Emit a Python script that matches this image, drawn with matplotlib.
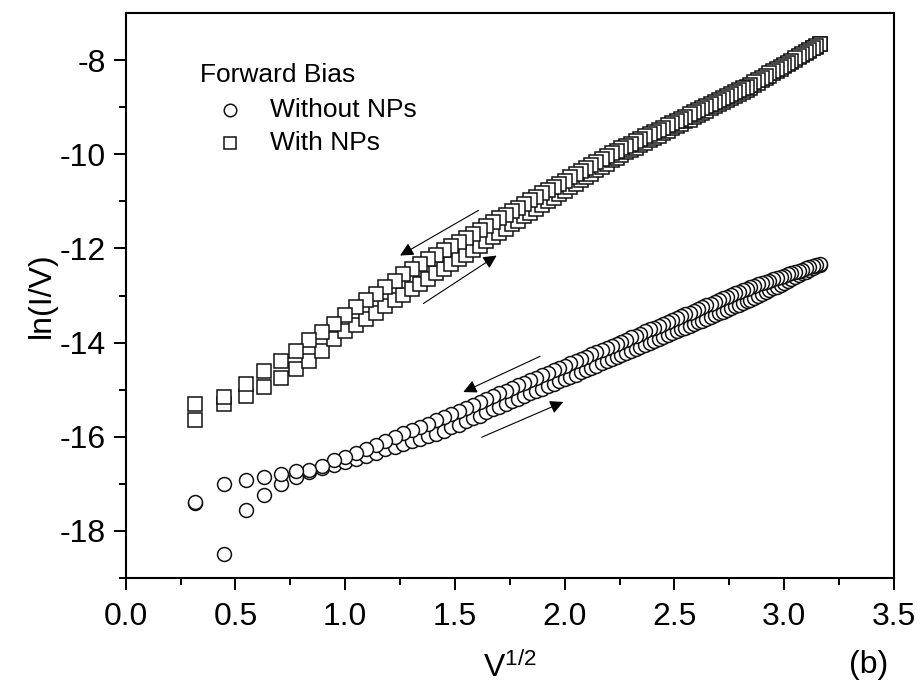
import numpy as np
import matplotlib
matplotlib.use("Agg")
import matplotlib.pyplot as plt

parameters = {'font.family': ['Liberation Sans', 'DejaVu Sans'],
              'mathtext.default': 'regular',
              'axes.unicode_minus': False,
              'axes.labelsize': 23,
              'xtick.labelsize': 23,
              'ytick.labelsize': 23,
              'axes.linewidth': 1.5}
plt.rcParams.update(parameters)

# bias sweep 0.1 V ... 10 V in 0.1 V steps
bias = [round(0.1 * k, 1) for k in range(1, 101)]

# ln(I/V), without NPs, forward sweep (up)
wo_fwd = [-17.40, -18.50, -17.55, -17.23, -17.01, -16.86, -16.75, -16.66, -16.59, -16.54,
          -16.47, -16.40, -16.34, -16.27, -16.21, -16.16, -16.10, -16.04, -15.99, -15.94,
          -15.87, -15.80, -15.74, -15.67, -15.61, -15.55, -15.48, -15.42, -15.36, -15.31,
          -15.25, -15.19, -15.14, -15.08, -15.03, -14.98, -14.93, -14.88, -14.82, -14.77,
          -14.72, -14.68, -14.63, -14.58, -14.53, -14.49, -14.44, -14.39, -14.35, -14.30,
          -14.26, -14.22, -14.17, -14.13, -14.09, -14.05, -14.00, -13.96, -13.92, -13.88,
          -13.84, -13.80, -13.76, -13.72, -13.68, -13.64, -13.60, -13.56, -13.53, -13.49,
          -13.45, -13.41, -13.37, -13.34, -13.30, -13.26, -13.23, -13.19, -13.15, -13.12,
          -13.09, -13.05, -13.01, -12.97, -12.93, -12.88, -12.84, -12.81, -12.77, -12.73,
          -12.69, -12.65, -12.61, -12.57, -12.53, -12.49, -12.46, -12.42, -12.38, -12.35]

# without NPs, reverse sweep (down)
wo_rev = [-17.39, -17.01, -16.91, -16.86, -16.80, -16.73, -16.70, -16.63, -16.50, -16.43,
          -16.34, -16.25, -16.17, -16.09, -16.01, -15.93, -15.86, -15.79, -15.72, -15.65,
          -15.58, -15.51, -15.45, -15.38, -15.32, -15.26, -15.20, -15.14, -15.08, -15.02,
          -14.96, -14.91, -14.85, -14.80, -14.75, -14.69, -14.64, -14.59, -14.54, -14.49,
          -14.44, -14.39, -14.34, -14.30, -14.25, -14.20, -14.16, -14.11, -14.07, -14.02,
          -13.98, -13.94, -13.89, -13.85, -13.81, -13.76, -13.72, -13.68, -13.64, -13.60,
          -13.56, -13.52, -13.48, -13.44, -13.40, -13.36, -13.32, -13.28, -13.25, -13.21,
          -13.17, -13.14, -13.10, -13.06, -13.03, -12.99, -12.95, -12.92, -12.88, -12.85,
          -12.82, -12.79, -12.76, -12.74, -12.71, -12.68, -12.65, -12.63, -12.60, -12.58,
          -12.55, -12.52, -12.50, -12.47, -12.45, -12.42, -12.40, -12.37, -12.35, -12.32]

# with NPs, forward sweep
np_fwd = [-15.65, -15.30, -15.14, -14.95, -14.75, -14.56, -14.38, -14.17, -13.92, -13.76,
          -13.62, -13.49, -13.36, -13.23, -13.10, -12.98, -12.86, -12.75, -12.64, -12.53,
          -12.43, -12.33, -12.22, -12.13, -12.03, -11.94, -11.85, -11.76, -11.67, -11.58,
          -11.49, -11.41, -11.32, -11.24, -11.16, -11.08, -11.00, -10.93, -10.85, -10.78,
          -10.70, -10.63, -10.55, -10.48, -10.41, -10.34, -10.27, -10.20, -10.13, -10.07,
          -10.02, -9.96, -9.91, -9.86, -9.80, -9.75, -9.70, -9.65, -9.60, -9.55,
          -9.50, -9.45, -9.40, -9.35, -9.30, -9.26, -9.21, -9.16, -9.12, -9.07,
          -9.02, -8.98, -8.93, -8.89, -8.84, -8.80, -8.75, -8.71, -8.67, -8.63,
          -8.58, -8.53, -8.48, -8.43, -8.38, -8.33, -8.28, -8.23, -8.18, -8.13,
          -8.08, -8.04, -7.99, -7.94, -7.89, -7.85, -7.80, -7.75, -7.71, -7.66]

# with NPs, reverse sweep
np_rev = [-15.30, -15.16, -14.87, -14.61, -14.38, -14.17, -13.95, -13.78, -13.60, -13.42,
          -13.25, -13.10, -12.96, -12.82, -12.68, -12.54, -12.43, -12.33, -12.23, -12.14,
          -12.04, -11.95, -11.86, -11.77, -11.69, -11.60, -11.52, -11.44, -11.36, -11.28,
          -11.20, -11.13, -11.05, -10.98, -10.90, -10.83, -10.76, -10.69, -10.62, -10.56,
          -10.49, -10.42, -10.36, -10.29, -10.23, -10.16, -10.10, -10.04, -9.98, -9.92,
          -9.87, -9.82, -9.77, -9.72, -9.67, -9.62, -9.57, -9.52, -9.48, -9.43,
          -9.38, -9.34, -9.29, -9.24, -9.20, -9.15, -9.11, -9.06, -9.02, -8.98,
          -8.93, -8.89, -8.85, -8.81, -8.76, -8.72, -8.68, -8.64, -8.60, -8.56,
          -8.52, -8.47, -8.42, -8.38, -8.33, -8.28, -8.23, -8.19, -8.14, -8.10,
          -8.05, -8.01, -7.96, -7.92, -7.87, -7.83, -7.79, -7.74, -7.70, -7.65]

# sweep direction arrows: (tail x, tail y, head x, head y)
arrows = [(1.607, -11.19, 1.250, -12.15),
          (1.356, -13.17, 1.690, -12.15),
          (1.888, -14.29, 1.538, -15.05),
          (1.622, -16.01, 1.994, -15.26)]

x = np.sqrt(bias)

fig = plt.figure(figsize=(9.24, 6.93), dpi=100)
ax = fig.add_axes([0.136, 0.166, 0.8315, 0.815])

mk = dict(ls='none', mfc='white', mec='#111111', mew=1.1, ms=10)
# forward sweep goes up, reverse comes back down
ax.plot(x, wo_fwd, marker='o', **mk)
ax.plot(x[::-1], wo_rev[::-1], marker='o', **mk)
ax.plot(x, np_fwd, marker='s', **mk)
ax.plot(x[::-1], np_rev[::-1], marker='s', **mk)

for x0, y0, x1, y1 in arrows:
  ax.annotate('', xy=(x1, y1), xytext=(x0, y0),
              arrowprops=dict(arrowstyle='-|>', color='black', lw=0.8,
                              mutation_scale=20, shrinkA=0, shrinkB=0))

# key, placed by hand in axes fractions
ax.text(0.097, 0.890, 'Forward Bias', fontsize=19, va='center', transform=ax.transAxes)
for yy, m, lab in [(0.828, 'o', 'Without NPs'), (0.770, 's', 'With NPs')]:
  ax.plot([0.136], [yy], marker=m, transform=ax.transAxes, clip_on=False,
          ls='none', mfc='white', mec='#111111', mew=1.1, ms=9)
  ax.text(0.188, yy, lab, fontsize=19, va='center', transform=ax.transAxes)

ax.set_xlim(0, 3.5)
ax.set_ylim(-19, -7)
ax.set_xticks(np.arange(0, 3.51, 0.5))
ax.set_xticks(np.arange(0.25, 3.5, 0.5), minor=True)
ax.set_yticks(np.arange(-18, -7, 2))
ax.set_yticks(np.arange(-19, -7, 2), minor=True)
ax.tick_params(which='major', direction='out', length=8.5, width=1.4)
ax.tick_params(axis='x', which='major', pad=9)
ax.tick_params(axis='y', which='major', pad=6)
ax.tick_params(which='minor', direction='out', length=5, width=1.4)
ax.tick_params(top=False, right=False)
ax.xaxis.set_major_formatter(matplotlib.ticker.FormatStrFormatter('%.1f'))

ax.set_xlabel('V$^{1/2}$', labelpad=14)
ax.set_ylabel('ln(I/V)', labelpad=2)
fig.text(0.94, 0.04, '(b)', fontsize=23, ha='center', va='center')

plt.savefig('out.png', dpi=100)
